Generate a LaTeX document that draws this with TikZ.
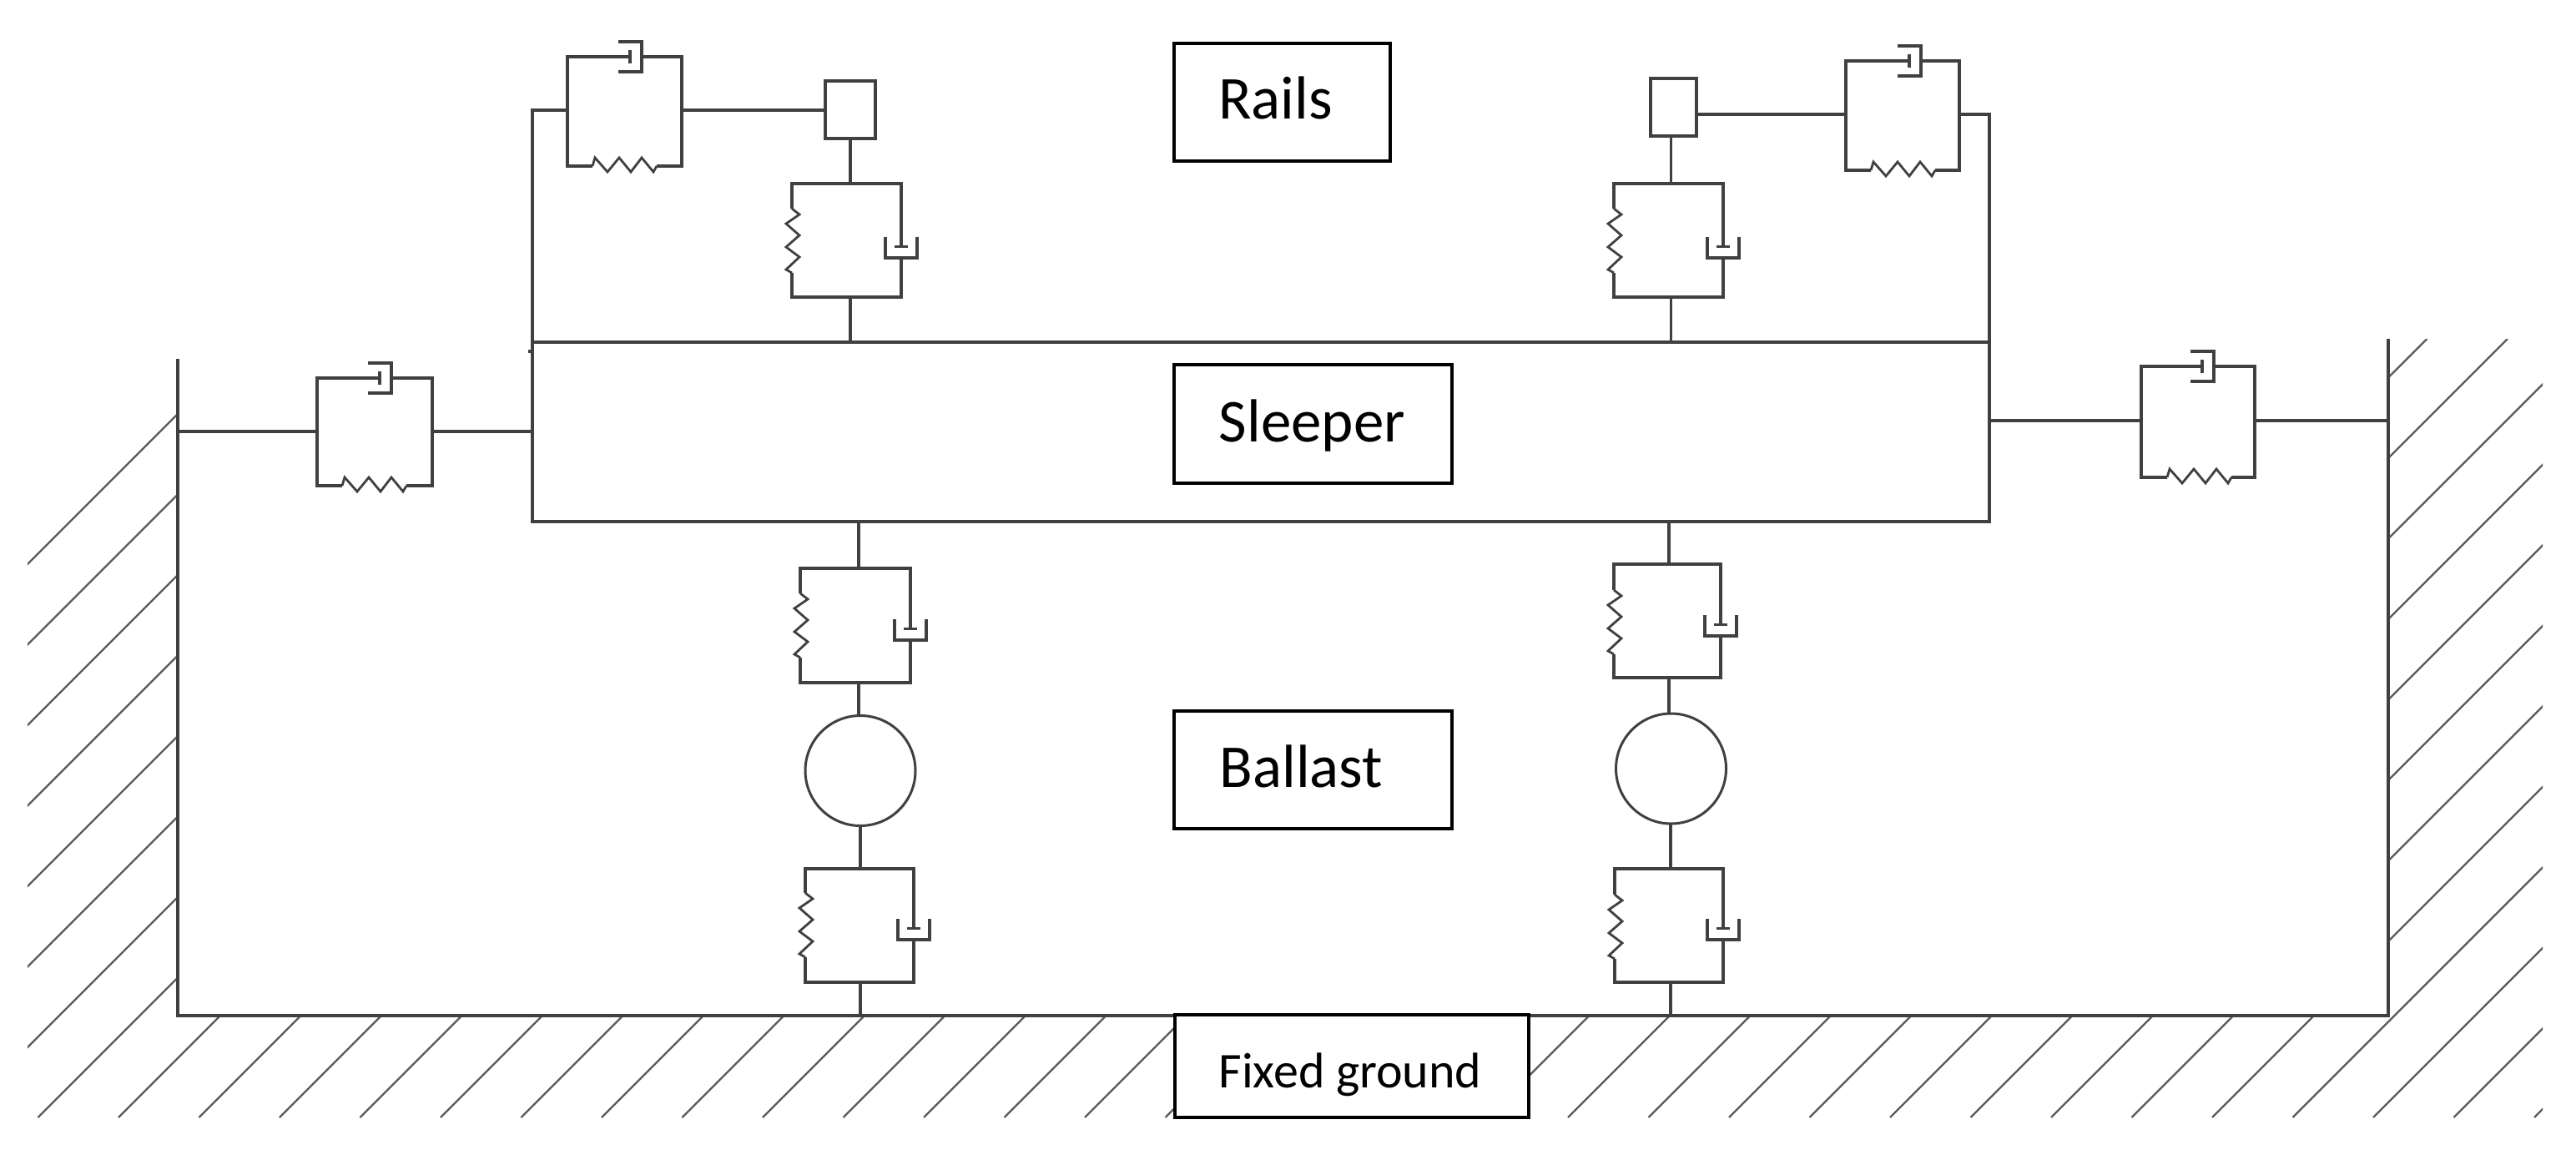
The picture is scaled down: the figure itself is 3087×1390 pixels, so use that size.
\documentclass[tikz,border=0pt]{standalone}
\usepackage{fontspec}
\setmainfont{Carlito}
\definecolor{wirec}{HTML}{404040}
\definecolor{hatchc}{HTML}{5A5A5A}
\tikzset{
  x=0.5pt,y=-0.5pt,
  wire/.style={draw=wirec,line width=1.8pt,line cap=butt,line join=miter},
  thin wire/.style={draw=wirec,line width=1.4pt,line join=miter},
  hatchline/.style={draw=hatchc,line width=1.15pt},
  labelbox/.style={draw=black,line width=2.2pt,fill=white,inner sep=0pt,outer sep=0pt,text depth=0pt,font=\fontsize{36.5}{42}\selectfont},
  mass/.style={draw=wirec,line width=1.9pt,fill=white,inner sep=0pt,outer sep=0pt},
  ballastnode/.style={circle,draw=wirec,line width=1.5pt,fill=white,inner sep=0pt,outer sep=0pt,minimum size=66pt}
}
% vertical Kelvin-Voigt unit: name, xl, xr, ytop, ybot, xmid, spring top, cup top
\newcommand{\vKV}[8]{%
  \coordinate (#1-t) at (#6,#4);
  \coordinate (#1-b) at (#6,#5);
  \draw[wire] (#2,#7) -- (#2,#4) -- (#3,#4) -- (#3,{#8+11.5});
  \draw[wire] ({#3-8},{#8+11.5}) -- ({#3+8},{#8+11.5});
  \draw[wire] ({#3-19},#8) -- ({#3-19},{#8+25}) -- ({#3+19},{#8+25}) -- ({#3+19},#8);
  \draw[wire] (#3,{#8+25}) -- (#3,#5) -- (#2,#5) -- (#2,{#7+77});
  \draw[thin wire] (#2,#7) -- ({#2+9},{#7+7}) -- ({#2-7},{#7+18}) -- ({#2+9},{#7+32}) -- ({#2-7},{#7+46}) -- ({#2+9},{#7+58}) -- ({#2-7},{#7+73}) -- (#2,{#7+77});
}
% horizontal Kelvin-Voigt unit: name, xl, xr, ytop, ybot, cup x, spring start, connection y
\newcommand{\hKV}[8]{%
  \coordinate (#1-l) at (#2,#8);
  \coordinate (#1-r) at (#3,#8);
  \draw[wire] (#7,#5) -- (#2,#5) -- (#2,#4) -- ({#6-14},#4);
  \draw[wire] ({#6-14},{#4-8}) -- ({#6-14},{#4+8});
  \draw[wire] ({#6-28},{#4-18}) -- (#6,{#4-18}) -- (#6,{#4+18}) -- ({#6-28},{#4+18});
  \draw[wire] (#6,#4) -- (#3,#4) -- (#3,#5) -- ({#7+77},#5);
  \draw[thin wire] (#7,#5) -- ({#7+3},{#5-10}) -- ({#7+18},{#5+7}) -- ({#7+32},{#5-10}) -- ({#7+46},{#5+7}) -- ({#7+59},{#5-10}) -- ({#7+73},{#5+7}) -- ({#7+77},#5);
}
\begin{document}
\begin{tikzpicture}
\useasboundingbox (0,0) rectangle (3087,1390);
\fill[white] (0,0) rectangle (3087,1390);
% hatching, masked by the white interior
\begin{scope}
  \clip (33,406) rectangle (3047,1339);
  \foreach \k in {-8,...,30}{
    \pgfmathsetmacro{\c}{1481+96.5*\k}
    \draw[hatchline] ({\c-1339},1339) -- ({\c-406},406);
  }
\end{scope}
\fill[white] (213,0) rectangle (2862,1217);
% frame
\coordinate (wallL) at (213,430);
\coordinate (cornerL) at (213,1217);
\coordinate (cornerR) at (2862,1217);
\coordinate (wallR) at (2862,406);
\draw[wire] (wallL) -- (cornerL) -- (cornerR) -- (wallR);
% sleeper
\node[draw=wirec,line width=1.8pt,inner sep=0pt,outer sep=0pt,minimum width=873pt,minimum height=107.5pt] (sleeper) at (1511,517.5) {};
\draw[wire] (633,421) -- (638,421);
% rail masses
\node[mass,minimum width=29.75pt,minimum height=34.5pt] (m1) at (1019,131.5) {};
\node[mass,minimum width=27.5pt,minimum height=34.5pt] (m2) at (2005.5,128.5) {};
% rail pad units
\hKV{rl}{680}{817}{68}{199}{769}{710}{132}
\hKV{rr}{2212}{2348}{73}{204}{2302}{2242}{137}
\vKV{pl}{949}{1080}{220}{356}{1019}{250}{284}
\vKV{pr}{1934}{2065}{220}{356}{2002.5}{250}{284}
% side units
\hKV{wl}{380}{518}{453}{582}{469}{410}{517}
\hKV{wr}{2566}{2702}{439}{572}{2653}{2597}{504}
% ballast units
\vKV{ul}{959}{1091}{681}{818}{1029}{711}{742}
\vKV{ll}{965}{1095}{1041}{1177}{1031}{1070}{1101}
\vKV{ur}{1934}{2062}{676}{812}{2000}{707}{737}
\vKV{lr}{1935}{2065}{1041}{1177}{2002}{1072}{1101}
\node[ballastnode] (c1) at (1031,923.5) {};
\node[ballastnode] (c2) at (2002.5,921) {};
% connectors
\draw[wire] (rl-r) -- (rl-r -| m1.west);
\draw[wire] (rl-l) -| (sleeper.north west);
\draw[wire] (rr-l) -- (rr-l -| m2.east);
\draw[wire] (rr-r) -| (sleeper.north east);
\draw[wire] (pl-t) -- (pl-t |- m1.south);
\draw[wire] (pr-t) -- (pr-t |- m2.south);
\draw[wire] (pl-b) -- (pl-b |- sleeper.north);
\draw[wire] (pr-b) -- (pr-b |- sleeper.north);
\draw[wire] (wl-l) -- (wl-l -| cornerL);
\draw[wire] (wl-r) -- (wl-r -| sleeper.west);
\draw[wire] (wr-l) -- (wr-l -| sleeper.east);
\draw[wire] (wr-r) -- (wr-r -| cornerR);
\draw[wire] (ul-t) -- (ul-t |- sleeper.south);
\draw[wire] (ur-t) -- (ur-t |- sleeper.south);
\draw[wire] (ul-b) -- (ul-b |- c1.north);
\draw[wire] (ur-b) -- (ur-b |- c2.north);
\draw[wire] (ll-t) -- (ll-t |- c1.south);
\draw[wire] (lr-t) -- (lr-t |- c2.south);
\draw[wire] (ll-b) -- (ll-b |- cornerL);
\draw[wire] (lr-b) -- (lr-b |- cornerR);
% labels
\node[labelbox,minimum width=129.5pt,minimum height=70.5pt,text height=20.5pt] (rails) at (1536.5,122.5) {Rails\kern8pt};
\node[labelbox,minimum width=166.5pt,minimum height=71pt,text height=21pt] (sleeperlabel) at (1573.5,508) {Sleeper\kern1pt};
\node[labelbox,minimum width=166.5pt,minimum height=70.5pt,text height=20.5pt] (ballast) at (1573.5,922.5) {Ballast\kern14pt};
\node[labelbox,minimum width=212pt,minimum height=61.5pt,text height=25.5pt,font=\fontsize{30}{36}\selectfont] (fixed) at (1620,1277.5) {Fixed ground\kern2pt};
\end{tikzpicture}
\end{document}
